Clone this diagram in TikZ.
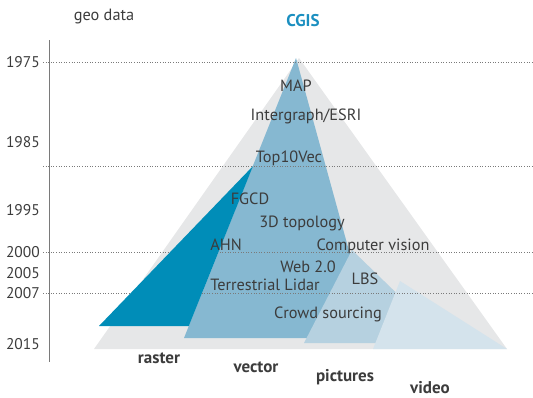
\documentclass[tikz,border=0pt]{standalone}
\usepackage{fontspec}
\setmainfont{PT Sans}
\definecolor{gfill}{HTML}{E6E7E8}
\definecolor{rfill}{HTML}{008DB8}
\definecolor{vfill}{HTML}{86B8D1}
\definecolor{pfill}{HTML}{B6D1E0}
\definecolor{vidfill}{HTML}{D4E3EC}
\definecolor{txt}{HTML}{3C3C3C}
\definecolor{cgis}{HTML}{1B8FC0}
\definecolor{axis}{HTML}{7A7A7A}
\begin{document}
\begin{tikzpicture}[x=1pt,y=-1pt,
  lbl/.style={text=txt,font=\fontsize{16.3}{18}\selectfont,inner sep=0pt},
  yr/.style={text=txt,font=\fontsize{15.5}{18}\selectfont,inner sep=0pt,anchor=east},
  cat/.style={text=txt,font=\fontsize{17}{19}\selectfont\bfseries,inner sep=0pt},
  grid/.style={axis,dotted,line width=0.6pt}]
\useasboundingbox (0,0) rectangle (533,397);
% shapes
\fill[gfill] (299,58) -- (94,349) -- (507,349) -- cycle;
\fill[vfill] (296,58) -- (184,338) -- (373,338) -- cycle;
\fill[pfill] (352,250) -- (304,343) -- (448,343) -- cycle;
\fill[vidfill] (400,281) -- (373,349) -- (507,349) -- cycle;
% axis and grid
\coordinate (atop) at (49,40);
\coordinate (abot) at (49,362);
\draw[axis,line width=0.7pt] (atop) -- (abot);
\coordinate (g1a) at (43,62);  \coordinate (g1b) at (533,62);
\coordinate (g2a) at (43,166); \coordinate (g2b) at (533,166);
\coordinate (g3a) at (43,252); \coordinate (g3b) at (533,252);
\coordinate (g4a) at (43,293); \coordinate (g4b) at (533,293);
\draw[grid] (g1a) -- (g1b);
\draw[grid] (g2a) -- (g2b);
\draw[grid] (g3a) -- (g3b);
\draw[grid] (g4a) -- (g4b);
% raster (visible part)
\fill[rfill] (253,166) -- (99,326) -- (188.8,326) -- cycle;
% year labels
\node[yr] (y1975) at (40,62) {1975};
\node[yr] (y1985) at (40,142) {1985};
\node[yr] (y1995) at (40,210) {1995};
\node[yr] (y2000) at (40,252) {2000};
\node[yr] (y2005) at (40,273) {2005};
\node[yr] (y2007) at (40,293) {2007};
\node[yr] (y2015) at (40,344) {2015};
% titles
\node[lbl] (geo) at (104,17) {geo data};
\node[cat,text=cgis] (cg) at (303,21) {CGIS};
% inner labels
\node[lbl] (map) at (296,86) {MAP};
\node[lbl] (ies) at (306,116) {Intergraph/ESRI};
\node[lbl] (top) at (289,158) {Top10Vec};
\node[lbl] (fgcd) at (250,199) {FGCD};
\node[lbl] (topo) at (302,223) {3D topology};
\node[lbl] (ahn) at (226,245) {AHN};
\node[lbl] (cv) at (373,246) {Computer vision};
\node[lbl] (web) at (308,267) {Web 2.0};
\node[lbl] (lid) at (265,285) {Terrestrial Lidar};
\node[lbl] (lbs) at (365,279) {LBS};
\node[lbl] (crowd) at (328,314) {Crowd sourcing};
% bottom categories
\node[cat] (raster) at (159,358) {raster};
\node[cat] (vector) at (256,367) {vector};
\node[cat] (pict) at (345,377) {pictures};
\node[cat] (video) at (430,387.5) {video};
\end{tikzpicture}
\end{document}
